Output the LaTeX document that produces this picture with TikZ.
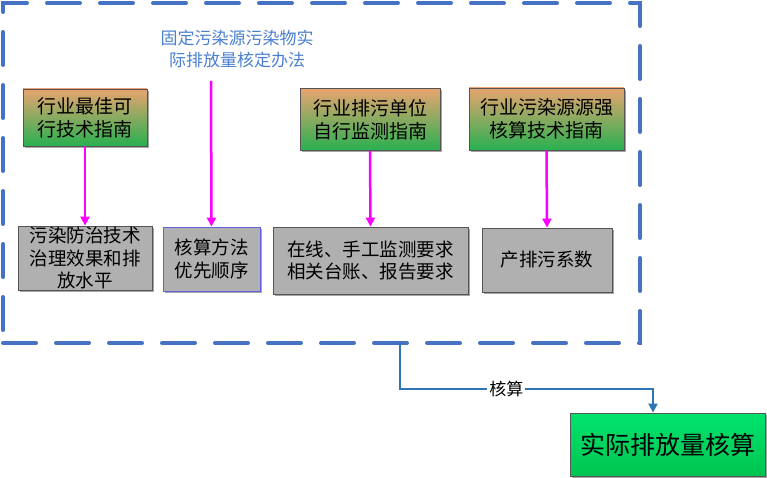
\documentclass[tikz,border=0pt]{standalone}
\usepackage{fontspec}
\newfontfamily\cjk{Noto Sans CJK SC}
\usetikzlibrary{arrows.meta,shadows}
\definecolor{frameblue}{RGB}{70,114,196}
\definecolor{linkblue}{RGB}{46,117,182}
\definecolor{titleblue}{RGB}{74,127,208}
\definecolor{topor}{RGB}{232,164,112}
\definecolor{botgr}{RGB}{40,176,80}
\definecolor{boxgray}{RGB}{176,176,176}
\definecolor{edgegray}{RGB}{85,85,85}
\definecolor{edgeblue}{RGB}{96,96,224}
\definecolor{magentaA}{RGB}{255,0,255}
\begin{document}
\begin{tikzpicture}[x=1pt,y=-1pt,
  every node/.style={inner sep=0pt, align=center},
  shadowed/.style={drop shadow={shadow xshift=2pt,shadow yshift=-2pt,fill=black,opacity=0.35}},
  guide/.style={shadowed, draw=edgegray, line width=0.8pt, top color=topor, bottom color=botgr,
    font=\cjk\fontsize{19}{23}\selectfont},
  result/.style={shadowed, draw=edgegray, line width=0.8pt, fill=boxgray,
    font=\cjk\fontsize{18.5}{22.5}\selectfont},
  finalbox/.style={shadowed, draw=edgegray, line width=0.8pt,
    top color={rgb,255:red,0;green,228;blue,110}, bottom color={rgb,255:red,0;green,196;blue,80},
    font=\cjk\fontsize{25}{30}\selectfont},
  framebox/.style={draw=frameblue, line width=4pt, line cap=round, dash pattern=on 33pt off 20pt},
  pinkarrow/.style={draw=magentaA, line width=2.5pt, -{Triangle[length=9pt,width=9pt]}},
  bluelink/.style={draw=linkblue, line width=2pt, -{Triangle[length=9pt,width=9pt]}},
]
\useasboundingbox (0,0) rectangle (767,478);

% dashed frame
\node[framebox, minimum width=637pt, minimum height=340pt] (frame) at (321.5,173) {};

% title
\node[font=\cjk\fontsize{17}{22}\selectfont, text=titleblue] (title) at (237,49)
  {固定污染源污染物实\\际排放量核定办法};
\coordinate (tfoot) at (211,81);

% guides
\node[guide, minimum width=124pt, minimum height=57pt] (g1) at (85,117.5) {行业最佳可\\行技术指南};
\node[guide, minimum width=140pt, minimum height=62pt] (g3) at (370,119.5) {行业排污单位\\自行监测指南};
\node[guide, minimum width=155pt, minimum height=62pt] (g4) at (546.5,119) {行业污染源源强\\核算技术指南};

% results
\node[result, minimum width=134pt, minimum height=64pt] (ra) at (85,258) {污染防治技术\\治理效果和排\\放水平};
\node[result, draw=edgeblue, minimum width=97pt, minimum height=64pt] (rb) at (211.5,259) {核算方法\\优先顺序};
\node[result, minimum width=195pt, minimum height=67pt] (rc) at (370.5,260.5) {在线、手工监测要求\\相关台账、报告要求};
\node[result, minimum width=130pt, minimum height=64pt] (rd) at (547,260) {产排污系数};

% final
\node[finalbox, minimum width=195pt, minimum height=63pt] (final) at (667.5,444.5) {实际排放量核算};

% arrows
\draw[pinkarrow] (g1.south) -- (ra.north);
\draw[pinkarrow] (tfoot) -- (rb.north);
\draw[pinkarrow] (g3.south) -- (rc.north);
\draw[pinkarrow] (g4.south) -- (rd.north);

\coordinate (fb) at (400,343);
\draw[bluelink] (fb) -- ++(0,46) -| node[pos=0.21, fill=white, inner xsep=2pt, inner ysep=1pt,
  font=\cjk\fontsize{17}{20}\selectfont] {核算} ([xshift=-14.5pt]final.north);
\end{tikzpicture}
\end{document}
